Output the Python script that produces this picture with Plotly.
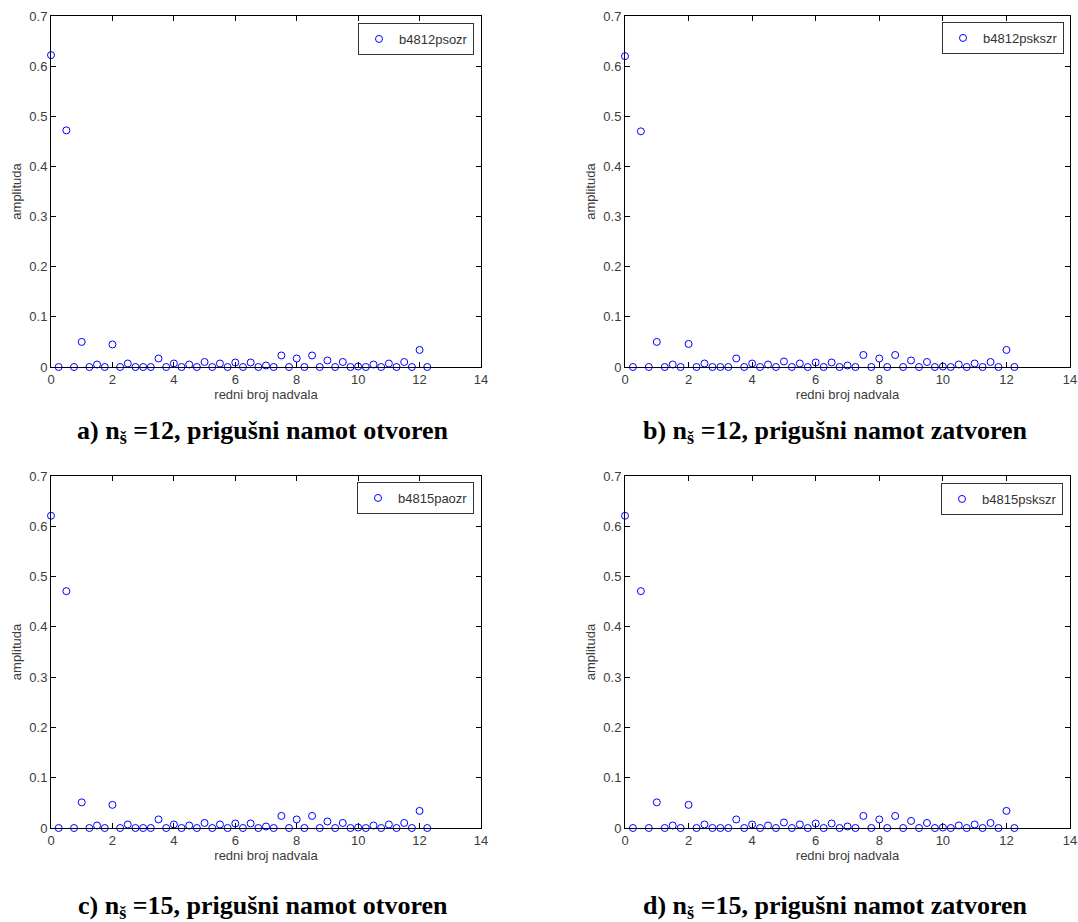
import plotly.graph_objects as go

# harmonic order (redni broj nadvala)
harmonic_order = [i * 0.25 for i in range(50)]

amp_a = [0.622, 0, 0.472, 0, 0.050, 0, 0.005, 0, 0.045, 0,
         0.007, 0, 0, 0, 0.017, 0, 0.007, 0, 0.005, 0,
         0.010, 0, 0.007, 0, 0.009, 0, 0.009, 0, 0.003, 0,
         0.023, 0, 0.017, 0, 0.023, 0, 0.013, 0, 0.010, 0,
         0.001, 0, 0.005, 0, 0.007, 0, 0.010, 0, 0.034, 0]
amp_b = [0.620, 0, 0.470, 0, 0.050, 0, 0.005, 0, 0.046, 0,
         0.007, 0, 0, 0, 0.017, 0, 0.007, 0, 0.005, 0,
         0.011, 0, 0.007, 0, 0.009, 0, 0.009, 0, 0.003, 0,
         0.024, 0, 0.017, 0, 0.024, 0, 0.013, 0, 0.010, 0,
         0.001, 0, 0.005, 0, 0.007, 0, 0.010, 0, 0.034, 0]
amp_c = [0.621, 0, 0.471, 0, 0.051, 0, 0.005, 0, 0.046, 0,
         0.007, 0, 0, 0, 0.017, 0, 0.007, 0, 0.005, 0,
         0.010, 0, 0.007, 0, 0.009, 0, 0.009, 0, 0.003, 0,
         0.024, 0, 0.017, 0, 0.024, 0, 0.013, 0, 0.010, 0,
         0.001, 0, 0.005, 0, 0.007, 0, 0.010, 0, 0.034, 0]
amp_d = [0.621, 0, 0.471, 0, 0.051, 0, 0.005, 0, 0.046, 0,
         0.007, 0, 0, 0, 0.017, 0, 0.007, 0, 0.005, 0,
         0.011, 0, 0.007, 0, 0.009, 0, 0.009, 0, 0.003, 0,
         0.024, 0, 0.017, 0, 0.024, 0, 0.014, 0, 0.010, 0,
         0.001, 0, 0.005, 0, 0.007, 0, 0.010, 0, 0.034, 0]

series_names = ["b4812psozr", "b4812pskszr", "b4815paozr", "b4815pskszr"]
captions = ["a) n<sub>š</sub> =12, prigušni namot otvoren",
            "b) n<sub>š</sub> =12, prigušni namot zatvoren",
            "c) n<sub>š</sub> =15, prigušni namot otvoren",
            "d) n<sub>š</sub> =15, prigušni namot zatvoren"]
x_ticks = [0, 2, 4, 6, 8, 10, 12, 14]
y_ticks = [0, 0.1, 0.2, 0.3, 0.4, 0.5, 0.6, 0.7]
x_title = "redni broj nadvala"
y_title = "amplituda"

W, H = 1078, 922
# panel frames in pixels: (left, right, top, bottom)
frames = [(51, 481, 16, 367), (625, 1070, 16, 367),
          (51, 481, 476, 828), (625, 1070, 476, 828)]
legend_pos = [(474, 23), (1064, 22), (474, 482), (1063, 483)]
caption_pos = [(263, 432), (835, 432), (263, 907), (835, 907)]

all_amps = [amp_a, amp_b, amp_c, amp_d]

fig = go.Figure()
tickfont = dict(family="Liberation Sans, Arial, sans-serif", size=13, color="#3c3c3c")

for i in range(4):
    k = "" if i == 0 else str(i + 1)
    leg = "legend" if i == 0 else f"legend{i+1}"
    fig.add_trace(go.Scatter(
        x=harmonic_order, y=all_amps[i], mode="markers", name=series_names[i],
        xaxis="x" + k, yaxis="y" + k, legend=leg, cliponaxis=False,
        marker=dict(symbol="circle-open", size=7, color="#0000ff", line=dict(width=1)),
    ))
    l, r, t, b = frames[i]
    axcommon = dict(showline=True, linecolor="#000000", linewidth=1, mirror="allticks",
                    ticks="inside", ticklen=5, tickcolor="#000000", showgrid=False,
                    zeroline=False, tickfont=tickfont, automargin=False)
    fig.layout["xaxis" + k] = dict(
        domain=[l / W, r / W], range=[0, 14], tickvals=x_ticks,
        anchor="y" + k, title=dict(text=x_title, font=tickfont, standoff=2), **axcommon)
    fig.layout["yaxis" + k] = dict(
        domain=[1 - b / H, 1 - t / H], range=[0, 0.7], tickvals=y_ticks,
        ticktext=[("0" if v == 0 else f"{v:.1f}") for v in y_ticks],
        anchor="x" + k, title=dict(text=y_title, font=tickfont, standoff=4), **axcommon)
    lx, ly = legend_pos[i]
    fig.layout[leg] = dict(
        x=lx / W, y=1 - ly / H, xanchor="right", yanchor="top",
        bordercolor="#333333", borderwidth=1, bgcolor="white",
        font=dict(family="Liberation Sans, Arial, sans-serif", size=13, color="#333333"),
        itemwidth=30,
    )
    cx, cy = caption_pos[i]
    fig.add_annotation(
        x=cx / W, y=1 - cy / H, xref="paper", yref="paper", showarrow=False,
        text="<b>" + captions[i] + "</b>", xanchor="center", yanchor="middle",
        font=dict(family="Liberation Serif, Times New Roman, serif", size=26, color="#000000"),
    )

fig.update_layout(
    width=W, height=H, margin=dict(l=0, r=0, t=0, b=0, autoexpand=False),
    paper_bgcolor="white", plot_bgcolor="white", showlegend=True,
)

fig.write_html("out.html", config={"displayModeBar": False},
               post_script="document.body.style.margin='0';document.body.style.overflow='hidden';")
